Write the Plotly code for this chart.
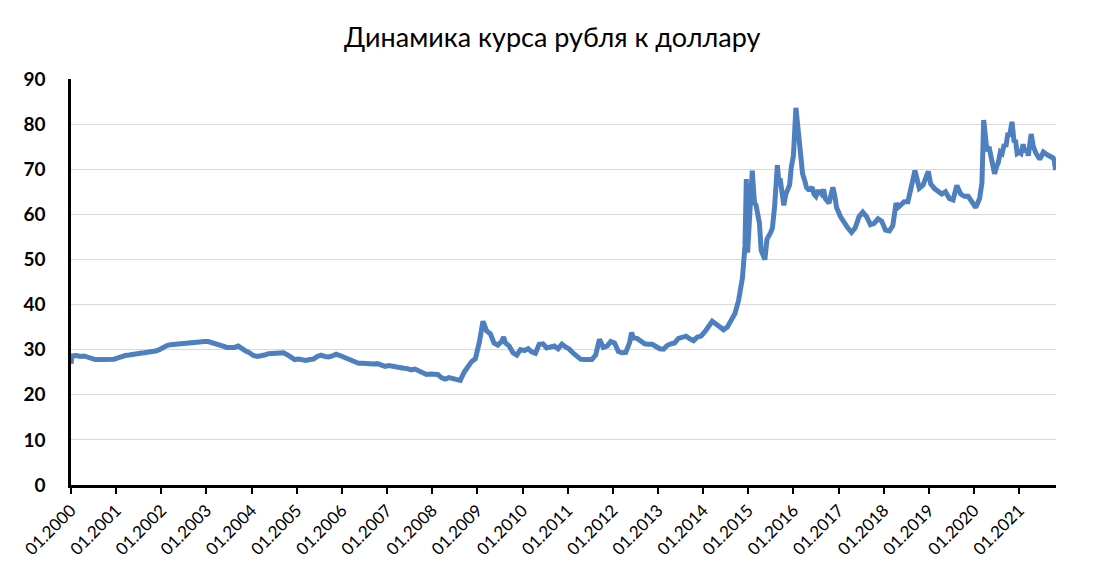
import plotly.graph_objects as go

# курс USD/RUB, значения
dates = [
    "2000-01-01", "2000-01-10", "2000-02-15", "2000-03-15", "2000-04-15", "2000-05-15", "2000-06-15",
    "2000-07-15", "2000-08-15", "2000-09-15", "2000-10-15", "2000-11-15", "2000-12-15",
    "2001-01-15", "2001-02-15", "2001-03-15", "2001-04-15", "2001-05-15", "2001-06-15",
    "2001-07-15", "2001-08-15", "2001-09-15", "2001-10-15", "2001-11-15", "2001-12-15",
    "2002-01-15", "2002-02-15", "2002-03-15", "2002-04-15", "2002-05-15", "2002-06-15",
    "2002-07-15", "2002-08-15", "2002-09-15", "2002-10-15", "2002-11-15", "2002-12-15",
    "2003-01-15", "2003-02-15", "2003-03-15", "2003-04-15", "2003-05-15", "2003-06-15",
    "2003-07-15", "2003-08-15", "2003-09-15", "2003-10-15", "2003-11-15", "2003-12-15",
    "2004-01-15", "2004-02-15", "2004-03-15", "2004-04-15", "2004-05-15", "2004-06-15",
    "2004-07-15", "2004-08-15", "2004-09-15", "2004-10-15", "2004-11-15", "2004-12-15",
    "2005-01-15", "2005-02-15", "2005-03-15", "2005-04-15", "2005-05-15", "2005-06-15",
    "2005-07-15", "2005-08-15", "2005-09-15", "2005-10-15", "2005-11-15", "2005-12-15",
    "2006-01-15", "2006-02-15", "2006-03-15", "2006-04-15", "2006-05-15", "2006-06-15",
    "2006-07-15", "2006-08-15", "2006-09-15", "2006-10-15", "2006-11-15", "2006-12-15",
    "2007-01-15", "2007-02-15", "2007-03-15", "2007-04-15", "2007-05-15", "2007-06-15",
    "2007-07-15", "2007-08-15", "2007-09-15", "2007-10-15", "2007-11-15", "2007-12-15",
    "2008-01-15", "2008-02-15", "2008-03-15", "2008-04-15", "2008-05-15", "2008-06-15",
    "2008-07-15", "2008-08-15", "2008-09-15", "2008-10-15", "2008-11-15", "2008-12-15",
    "2009-01-15", "2009-02-15", "2009-03-01", "2009-03-15", "2009-04-15", "2009-05-15", "2009-06-15",
    "2009-07-15", "2009-08-01", "2009-08-15", "2009-09-15", "2009-10-15", "2009-11-15", "2009-12-15",
    "2010-01-15", "2010-02-15", "2010-03-15", "2010-04-15", "2010-05-15", "2010-06-15",
    "2010-07-15", "2010-08-15", "2010-09-15", "2010-10-15", "2010-11-15", "2010-12-15",
    "2011-01-15", "2011-02-15", "2011-03-15", "2011-04-15", "2011-05-15", "2011-06-15",
    "2011-07-15", "2011-08-15", "2011-09-15", "2011-10-15", "2011-11-15", "2011-12-15",
    "2012-01-15", "2012-02-15", "2012-03-15", "2012-04-15", "2012-05-15", "2012-06-01",
    "2012-06-15", "2012-07-15", "2012-08-15", "2012-09-15", "2012-10-15", "2012-11-15", "2012-12-15",
    "2013-01-15", "2013-02-15", "2013-03-15", "2013-04-15", "2013-05-15", "2013-06-15",
    "2013-07-15", "2013-08-15", "2013-09-15", "2013-10-15", "2013-11-15", "2013-12-15",
    "2014-01-15", "2014-02-15", "2014-03-15", "2014-04-15", "2014-05-15", "2014-06-15",
    "2014-07-15", "2014-08-15", "2014-09-15", "2014-10-15", "2014-11-15",
    "2014-12-05", "2014-12-16", "2014-12-19", "2014-12-26",
    "2015-01-15", "2015-02-02", "2015-02-12", "2015-02-20", "2015-03-05", "2015-03-15",
    "2015-04-01", "2015-04-15", "2015-05-01", "2015-05-15", "2015-06-01", "2015-06-15",
    "2015-07-01", "2015-07-15", "2015-08-01", "2015-08-24", "2015-09-05", "2015-09-15",
    "2015-10-01", "2015-10-15", "2015-11-01", "2015-11-15", "2015-12-01", "2015-12-15",
    "2016-01-01", "2016-01-21", "2016-02-05", "2016-02-15", "2016-03-01", "2016-03-15",
    "2016-04-01", "2016-04-15", "2016-05-01", "2016-05-15", "2016-06-01", "2016-06-15",
    "2016-07-01", "2016-07-15", "2016-08-01", "2016-08-15", "2016-09-01", "2016-09-15",
    "2016-10-15", "2016-11-15", "2016-12-01", "2016-12-15",
    "2017-01-15", "2017-02-15", "2017-03-15", "2017-04-15", "2017-05-15", "2017-06-15",
    "2017-07-15", "2017-08-15", "2017-09-15", "2017-10-15", "2017-11-15", "2017-12-15",
    "2018-01-15", "2018-02-15", "2018-03-15", "2018-04-10", "2018-04-25", "2018-05-15",
    "2018-06-15", "2018-07-15", "2018-08-15", "2018-09-10", "2018-10-15", "2018-11-15", "2018-12-27",
    "2019-01-15", "2019-02-15", "2019-03-15", "2019-04-15", "2019-05-15", "2019-06-15",
    "2019-07-15", "2019-08-15", "2019-09-15", "2019-10-15", "2019-11-15", "2019-12-15",
    "2020-01-15", "2020-02-15", "2020-03-05", "2020-03-19", "2020-04-01", "2020-04-15",
    "2020-05-01", "2020-05-15", "2020-06-15", "2020-07-01", "2020-07-15", "2020-08-01",
    "2020-08-15", "2020-09-01", "2020-09-15", "2020-10-01", "2020-10-15",
    "2020-11-03", "2020-11-20", "2020-12-01", "2020-12-15",
    "2021-01-01", "2021-01-15", "2021-02-01", "2021-02-15", "2021-03-01", "2021-03-15",
    "2021-04-07", "2021-04-25", "2021-05-15", "2021-06-01", "2021-06-15", "2021-07-01",
    "2021-07-15", "2021-08-15", "2021-09-01", "2021-09-15", "2021-10-01", "2021-10-10", "2021-10-22",
]
rates = [
    26.9, 28.6, 28.7, 28.5, 28.6, 28.3, 28.1, 27.8, 27.8, 27.8, 27.8, 27.8, 27.9,
    28.2, 28.6, 28.7, 28.8, 29.0, 29.1, 29.2, 29.3, 29.4, 29.5, 29.7, 30.0,
    30.5, 30.9, 31.1, 31.2, 31.3, 31.4, 31.5, 31.6, 31.6, 31.7, 31.8, 31.8,
    31.8, 31.6, 31.3, 31.1, 30.8, 30.5, 30.4, 30.5, 30.8, 30.1, 29.7, 29.3,
    28.7, 28.5, 28.6, 28.8, 29.1, 29.1, 29.1, 29.2, 29.3, 28.9, 28.2, 27.8,
    27.9, 27.8, 27.6, 27.8, 27.9, 28.5, 28.8, 28.5, 28.4, 28.6, 29.0, 28.7,
    28.3, 28.1, 27.7, 27.4, 27.0, 27.0, 26.9, 26.8, 26.8, 26.9, 26.6, 26.3,
    26.5, 26.3, 26.1, 25.9, 25.9, 25.8, 25.5, 25.7, 25.2, 24.8, 24.5, 24.6,
    24.5, 24.5, 23.8, 23.5, 23.8, 23.6, 23.4, 23.2, 25.0, 26.2, 27.4, 28.0,
    31.5, 36.3, 35.2, 34.2, 33.5, 31.5, 31.0, 31.8, 32.8, 31.5, 30.8, 29.3, 28.8, 30.0,
    29.8, 30.2, 29.5, 29.2, 31.2, 31.3, 30.4, 30.5, 30.8, 30.2, 31.2, 30.6,
    30.1, 29.2, 28.4, 27.9, 27.8, 27.9, 27.8, 28.8, 32.3, 30.5, 30.8, 31.8,
    31.5, 29.6, 29.3, 29.4, 31.5, 33.8, 32.6, 32.5, 31.9, 31.3, 31.2, 31.2, 30.7,
    30.2, 30.1, 30.9, 31.3, 31.5, 32.5, 32.8, 33.0, 32.4, 32.0, 32.8, 33.0,
    34.0, 35.5, 36.3, 35.7, 35.0, 34.4, 35.0, 36.3, 38.0, 41.0, 46.0,
    53.0, 67.8, 60.7, 51.5,
    63.5, 69.7, 65.5, 62.6, 62.0, 60.5, 58.0, 52.0, 51.0, 50.0, 54.5, 55.0,
    56.0, 57.0, 61.5, 70.9, 67.0, 68.0, 63.5, 62.0, 64.5, 65.5, 66.5, 70.5,
    73.0, 83.6, 79.5, 77.0, 73.5, 69.0, 67.5, 66.0, 65.5, 65.5, 66.0, 64.5,
    64.0, 65.0, 65.0, 64.5, 65.5, 63.5, 62.5, 66.0, 64.0, 61.5,
    59.5, 58.0, 57.0, 56.0, 57.0, 59.5, 60.5, 59.5, 57.7, 58.0, 59.0, 58.5,
    56.5, 56.3, 57.5, 62.5, 61.5, 62.0, 62.8, 62.8, 67.0, 69.7, 65.8, 66.5, 69.5,
    66.8, 65.7, 65.0, 64.5, 65.0, 63.5, 63.2, 66.4, 64.5, 64.0, 64.0, 62.5,
    61.5, 63.5, 67.0, 80.9, 78.0, 74.0, 75.0, 73.0, 69.0, 70.5, 71.5, 73.8,
    73.5, 75.5, 75.0, 78.0, 77.5,
    80.5, 76.0, 76.5, 73.5,
    73.8, 73.5, 75.5, 73.8, 74.5, 73.0, 77.8, 75.0, 73.6, 72.5, 72.2, 73.0,
    73.8, 73.2, 73.0, 72.8, 72.5, 72.0, 69.8,
]

years = list(range(2000, 2022))
tick_vals = [f"{y}-01-01" for y in years]
tick_text = [f"01.{y}" for y in years]

fig = go.Figure()
fig.add_trace(go.Scatter(x=dates, y=rates, mode="lines",
                         line=dict(color="#4E7FBE", width=5)))

fig.update_layout(
    width=1095, height=571,
    paper_bgcolor="white", plot_bgcolor="white",
    margin=dict(l=58, r=47, t=71, b=94),
    showlegend=False,
    font=dict(family="Lato", color="black"),
    title=dict(text="Динамика курса рубля к доллару", x=0.497, xanchor="center",
               y=0.949, yanchor="middle", font=dict(size=27, family="Lato")),
)
fig.update_xaxes(
    type="date", range=["2000-01-01", "2021-10-25"],
    tickvals=tick_vals, ticktext=tick_text, tickangle=-45,
    tickfont=dict(size=17), showgrid=False,
    showline=True, linecolor="black", linewidth=2.5,
    ticks="outside", ticklen=6, tickcolor="black", tickwidth=2,
)
fig.update_yaxes(
    range=[0, 90], dtick=10, tickfont=dict(size=19, family="Lato", weight="bold"),
    showgrid=True, gridcolor="#D9D9D9", gridwidth=1,
    showline=True, linecolor="black", linewidth=2.5, zeroline=False,
    ticks="", ticklabelstandoff=19,
)

fig.write_html("out.html")
